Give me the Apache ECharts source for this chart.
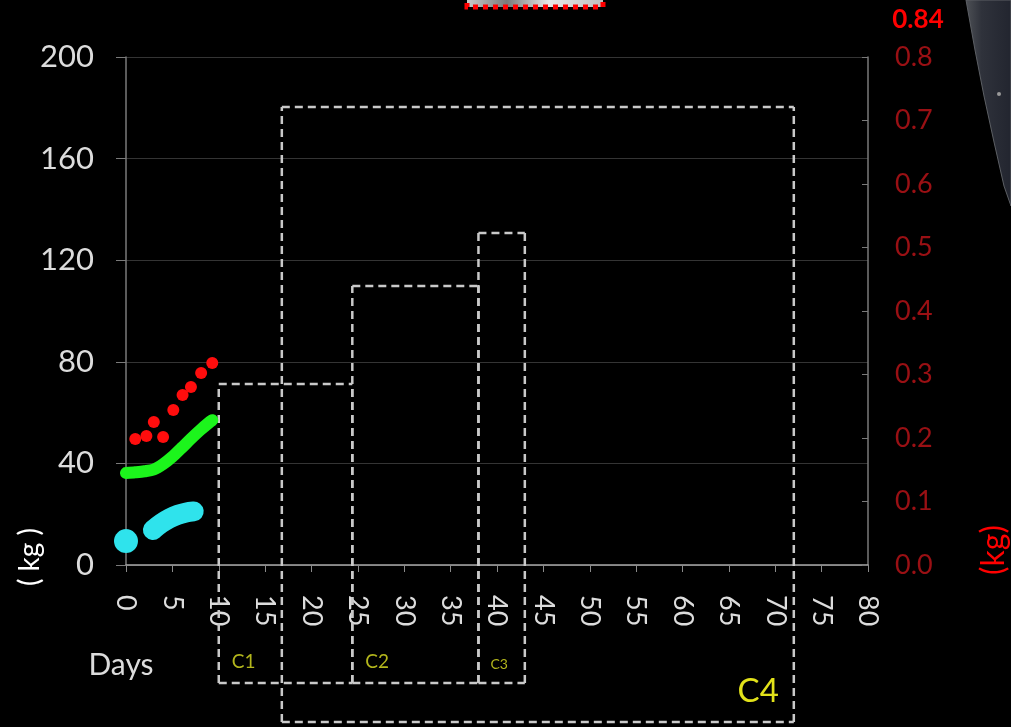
<!DOCTYPE html>
<html>
<head>
<meta charset="utf-8">
<style>
html,body{margin:0;padding:0;background:#000;}
#chart{width:1011px;height:727px;}
</style>
<script src="https://cdn.jsdelivr.net/npm/echarts@6/dist/echarts.min.js"></script>
</head>
<body>
<div id="chart"></div>
<script>
// ---- data ----
const xTicks = [0, 80, 5];                 // days axis: min, max, step
const leftTicks = [0, 200, 40];            // kg axis
const rightTicks = [0, 0.8, 0.1];          // kg axis (right)

const redDays = [1, 2.2, 3, 4, 5.1, 6.1, 7, 8.1, 9.3];
const redKg   = [49.6, 50.8, 56.3, 50.4, 61.0, 66.9, 70.1, 75.6, 79.5];

const greenDays = [0, 1, 2, 3, 4, 5, 6, 7, 8, 9, 9.3];
const greenKg   = [36.2, 36.5, 36.9, 37.6, 39.7, 42.6, 46.1, 49.7, 53.1, 56.2, 57.0];

const cyanDotDays = [0];
const cyanDotKg   = [9.4];
const cyanDays = [2.9, 3.8, 4.7, 5.6, 6.5, 7.3];
const cyanKg   = [13.8, 16.4, 18.4, 19.8, 20.7, 21.1];

const boxNames    = ['C4', 'C1', 'C2', 'C3'];
const boxDayStart = [16.8, 10, 24.4, 38];
const boxDayEnd   = [72, 24.4, 38, 43];
const boxTopKg    = [180.3, 71.3, 109.8, 130.7];
const boxBottomKg = [-61.8, -46.5, -46.5, -46.5];

// ---- chart ----
const chart = echarts.init(document.getElementById('chart'));
const FONT = 'Lato, "Open Sans", sans-serif';

const boxStyles = {
  C1: {dx: 13, dy: -21, size: 19, color: '#b3b61c', align: 'left'},
  C2: {dx: 13, dy: -21, size: 19, color: '#b3b61c', align: 'left'},
  C3: {dx: 12, dy: -19, size: 14, color: '#b3b61c', align: 'left'},
  C4: {dx: -15, dy: -31, size: 33, color: '#e2e21a', align: 'right'}
};
const dashStyle = {stroke: '#c9c9c9', lineWidth: 2.5, lineDash: [8, 5]};

const option = {
  backgroundColor: '#000',
  animation: false,
  grid: {left: 126, right: 143, top: 57, bottom: 162, containLabel: false},
  xAxis: {
    type: 'value', min: xTicks[0], max: xTicks[1], interval: xTicks[2],
    axisLine: {show: true, lineStyle: {color: '#a8a8a8', width: 1.5}},
    axisTick: {show: true, length: 7, lineStyle: {color: '#8a8a8a'}},
    splitLine: {show: false},
    axisLabel: {rotate: -90, margin: 30, color: '#dcdcdc', fontSize: 27, fontFamily: FONT}
  },
  yAxis: [{
    type: 'value', min: leftTicks[0], max: leftTicks[1], interval: leftTicks[2],
    position: 'left',
    axisLine: {show: true, lineStyle: {color: '#7a7a7a', width: 1.5}},
    axisTick: {show: true, length: 10, lineStyle: {color: '#7a7a7a'}},
    splitLine: {show: true, lineStyle: {color: '#343434', width: 1}},
    axisLabel: {margin: 32, color: '#dcdcdc', fontSize: 31, fontFamily: FONT}
  }, {
    type: 'value', min: rightTicks[0], max: rightTicks[1], interval: rightTicks[2],
    position: 'right',
    axisLine: {show: true, lineStyle: {color: '#7a7a7a', width: 1.5}},
    axisTick: {show: true, inside: true, length: 6, lineStyle: {color: '#7a7a7a'}},
    splitLine: {show: false},
    axisLabel: {margin: 27, color: '#9a1014', fontSize: 27, fontFamily: FONT,
      formatter: v => v.toFixed(1)}
  }],
  series: [{
    type: 'custom',
    name: 'boxes',
    z: 1,
    clip: false,
    encode: {x: [0, 1], y: [2, 3]},
    data: boxNames.map((n, i) => [boxDayStart[i], boxDayEnd[i], boxTopKg[i], boxBottomKg[i]]),
    renderItem: function (params, api) {
      const tl = api.coord([api.value(0), api.value(2)]);
      const br = api.coord([api.value(1), api.value(3)]);
      const name = boxNames[params.dataIndex];
      const st = boxStyles[name];
      const tx = st.align === 'left' ? tl[0] + st.dx : br[0] + st.dx;
      const seg = (x1, y1, x2, y2) => ({
        type: 'line', shape: {x1: x1, y1: y1, x2: x2, y2: y2}, style: Object.assign({}, dashStyle)
      });
      return {
        type: 'group',
        children: [
          seg(tl[0], tl[1], br[0], tl[1]),          // top
          seg(tl[0], br[1], br[0], br[1]),          // bottom
          seg(tl[0], br[1], tl[0], tl[1]),          // left (bottom -> top)
          seg(br[0], br[1], br[0], tl[1]),          // right (bottom -> top)
          {
            type: 'text',
            style: {
              x: tx, y: br[1] + st.dy, text: name,
              fill: st.color, font: st.size + 'px ' + FONT,
              textAlign: st.align, textVerticalAlign: 'middle'
            }
          }
        ]
      };
    }
  }, {
    type: 'line', name: 'green', yAxisIndex: 0, z: 3,
    data: greenDays.map((d, i) => [d, greenKg[i]]),
    showSymbol: false, smooth: 0.3,
    lineStyle: {color: '#1cf51c', width: 12, cap: 'round', join: 'round'}
  }, {
    type: 'line', name: 'cyan', yAxisIndex: 0, z: 3,
    data: cyanDays.map((d, i) => [d, cyanKg[i]]),
    showSymbol: false, smooth: 0.3,
    lineStyle: {color: '#2fe3ec', width: 20, cap: 'round', join: 'round'}
  }, {
    type: 'scatter', name: 'cyanDot', yAxisIndex: 0, z: 3,
    data: cyanDotDays.map((d, i) => [d, cyanDotKg[i]]),
    symbolSize: 24,
    itemStyle: {color: '#2fe3ec', opacity: 1}
  }, {
    type: 'scatter', name: 'red', yAxisIndex: 0, z: 4,
    data: redDays.map((d, i) => [d, redKg[i]]),
    symbolSize: 12,
    itemStyle: {color: '#ff0d0d', opacity: 1}
  }],
  graphic: [{
    type: 'polygon',
    shape: {points: [[966, 0], [1011, 0], [1011, 206], [1004, 186], [994, 142], [984, 96], [975, 50]]},
    style: {
      fill: new echarts.graphic.LinearGradient(0, 0, 1, 0, [
        {offset: 0, color: '#4e5156'}, {offset: 0.35, color: '#2f323b'}, {offset: 1, color: '#22252f'}
      ]),
      stroke: '#5c5f64', lineWidth: 1
    }
  }, {
    type: 'circle', shape: {cx: 999, cy: 94, r: 2}, style: {fill: '#9a9a9a'}
  }, {
    type: 'rect',
    shape: {x: 467, y: -22, width: 136, height: 29},
    style: {
      fill: new echarts.graphic.LinearGradient(0, 0, 1, 0, [
        {offset: 0, color: '#cfcfcf'}, {offset: 0.3, color: '#7a7a7a'},
        {offset: 0.6, color: '#e8e8e8'}, {offset: 1, color: '#bdbdbd'}
      ]),
      stroke: '#ff0000', lineWidth: 5, lineDash: [5, 5]
    }
  }, {
    type: 'text',
    style: {x: 918, y: 20, text: '0.84', fill: '#ff0000',
      font: 'bold 26px ' + FONT, textAlign: 'center', textVerticalAlign: 'middle'}
  }, {
    type: 'text', x: 30, y: 557, rotation: Math.PI / 2,
    style: {x: 0, y: 0, text: '( kg )', fill: '#ffffff',
      font: '28px ' + FONT, textAlign: 'center', textVerticalAlign: 'middle'}
  }, {
    type: 'text', x: 994, y: 550, rotation: Math.PI / 2,
    style: {x: 0, y: 0, text: '(kg)', fill: '#ff0000',
      font: '32px ' + FONT, textAlign: 'center', textVerticalAlign: 'middle'}
  }, {
    type: 'text',
    style: {x: 121, y: 665, text: 'Days', fill: '#dcdcdc',
      font: '30px ' + FONT, textAlign: 'center', textVerticalAlign: 'middle'}
  }]
};
chart.setOption(option);
</script>
</body>
</html>
